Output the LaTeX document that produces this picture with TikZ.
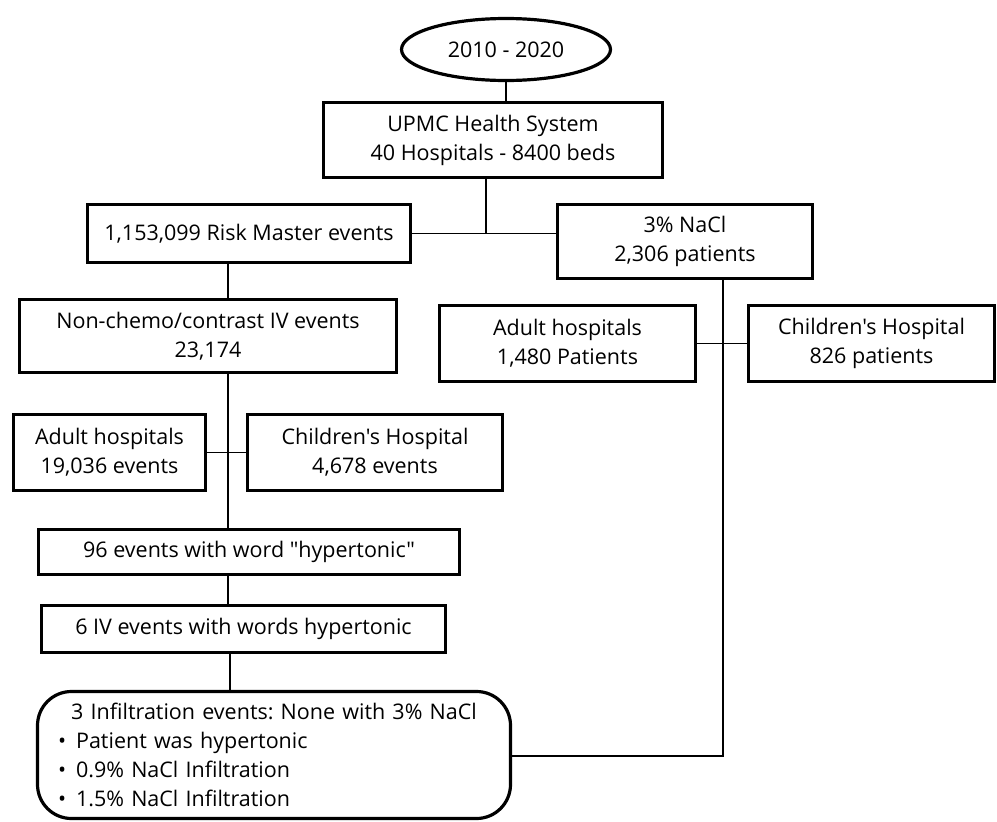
\documentclass[tikz,border=0pt]{standalone}
\usepackage{fontspec}
\setmainfont{Open Sans}[Ligatures=TeXOff]
\usetikzlibrary{shapes.geometric}
\newcommand{\diafont}{\fontsize{21.5}{29}\selectfont\frenchspacing}
\begin{document}
\begin{tikzpicture}[x=1pt,y=-1pt,
  box/.style={draw, line width=3.2pt, align=center, inner sep=0pt, font=\diafont},
  conn/.style={draw, line width=1.6pt}]
\useasboundingbox (0,0) rectangle (997,822);
% nodes
\node[box, ellipse, minimum width=209, minimum height=62] (ell) at (506,49.5) {2010 - 2020};
\node[box, minimum width=339, minimum height=75] (upmc) at (493,140) {UPMC Health System\\40 Hospitals - 8400 beds};
\node[box, minimum width=323, minimum height=58] (risk) at (249,233.5) {1,153,099 Risk Master events};
\node[box, minimum width=255, minimum height=74] (nacl) at (685,241.5) {3\% NaCl\\2,306 patients};
\node[box, minimum width=256, minimum height=76] (adultR) at (567.5,343.5) {Adult hospitals\\1,480 Patients};
\node[box, minimum width=246, minimum height=76] (childR) at (871.5,343.5) {Children's Hospital\\826 patients};
\node[box, minimum width=377, minimum height=73] (nonchemo) at (208,336) {Non-chemo/contrast IV events\\23,174};
\node[box, minimum width=192, minimum height=76] (adultL) at (109.5,452.5) {Adult hospitals\\19,036 events};
\node[box, minimum width=255, minimum height=76] (childL) at (375,452.5) {Children's Hospital\\4,678 events};
\node[box, minimum width=421, minimum height=45] (ev96) at (249,552) {96 events with word "hypertonic"};
\node[box, minimum width=404, minimum height=47] (ev6) at (243.5,629) {6 IV events with words hypertonic};
\node[box, rounded corners=34pt, minimum width=473, minimum height=127, text width=436, align=left] (infil) at (274,755)
  {\makebox[\linewidth][c]{3 Infiltration events: None with 3\% NaCl}\\
   \hspace*{2pt}\textbullet\hspace{10pt}Patient was hypertonic\\
   \hspace*{2pt}\textbullet\hspace{10pt}0.9\% NaCl Infiltration\\
   \hspace*{2pt}\textbullet\hspace{10pt}1.5\% NaCl Infiltration};
% junction coordinates
\coordinate (jtop) at (486,233.5);
\coordinate (jleft) at (228,0);
\coordinate (jleft2) at (230,0);
\coordinate (jright) at (723,0);
\coordinate (jbend) at (723,756);
% connectors
\draw[conn] (ell.south) -- (ell.south |- upmc.north);
\draw[conn] (risk.east) -- (risk.east -| nacl.west);
\draw[conn] (upmc.south -| jtop) -- (jtop);
\draw[conn] (risk.south -| jleft) -- (nonchemo.north -| jleft);
\draw[conn] (nonchemo.south -| jleft) -- (ev96.north -| jleft);
\draw[conn] (adultL.east) -- (childL.west);
\draw[conn] (ev96.south -| jleft) -- (ev6.north -| jleft);
\draw[conn] (ev6.south -| jleft2) -- (infil.north -| jleft2);
\draw[conn] (nacl.south -| jright) -- (jbend) -- (infil.east |- jbend);
\draw[conn] (adultR.east) -- (childR.west);
\end{tikzpicture}
\end{document}
